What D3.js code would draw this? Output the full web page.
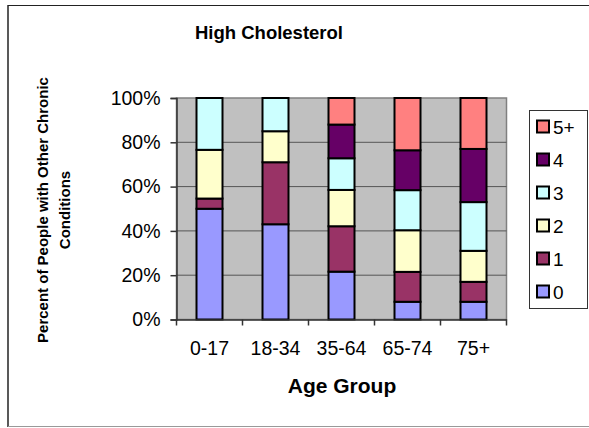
<!DOCTYPE html>
<html><head><meta charset="utf-8">
<script src="https://cdn.jsdelivr.net/npm/d3@7"></script>
<style>body{margin:0;background:#fff}svg{display:block;font-family:"Liberation Sans",Arial,sans-serif}</style>
</head><body><svg id="c" width="589" height="428"></svg>
<script>
const categories = ["0-17","18-34","35-64","65-74","75+"];
const seriesNames = ["0","1","2","3","4","5+"];
const s0 = [50, 43, 21.6, 8, 8];
const s1 = [4.6, 28, 20.5, 13.5, 9];
const s2 = [22, 14, 16.4, 18.8, 14];
const s3 = [23.4, 15, 14.3, 18.1, 22];
const s4 = [0, 0, 15.2, 18, 24];
const s5 = [0, 0, 12, 23.6, 23];
const colors = ["#9999FF","#993366","#FFFFCC","#CCFFFF","#660066","#FF8080"];
const yTicks = [0, 0.2, 0.4, 0.6, 0.8, 1];

const svg = d3.select("#c");
const series = [s0,s1,s2,s3,s4,s5];
const rows = categories.map((c,i)=>{const r={cat:c}; seriesNames.forEach((n,j)=>r[n]=series[j][i]/100); return r;});
const stack = d3.stack().keys(seriesNames)(rows);

const L=176.5, R=506.5, T=98, B=319.5;
const x = d3.scaleBand().domain(categories).range([L,R]);
const y = d3.scaleLinear().domain([0,1]).range([B,T]);
const FF = "Liberation Sans, Arial, sans-serif";

// outer border
svg.append("line").attr("x1",8).attr("x2",8).attr("y1",5).attr("y2",427).attr("stroke","#222").attr("stroke-width",1.5);
svg.append("line").attr("x1",8).attr("x2",589).attr("y1",5.5).attr("y2",5.5).attr("stroke","#222").attr("stroke-width",1);
svg.append("line").attr("x1",8).attr("x2",589).attr("y1",426.5).attr("y2",426.5).attr("stroke","#999").attr("stroke-width",1);

// plot bg
svg.append("rect").attr("x",L).attr("y",T).attr("width",R-L).attr("height",B-T).attr("fill","#C0C0C0").attr("stroke","#808080").attr("stroke-width",1.5);
// grid
svg.append("g").selectAll("line").data(yTicks.filter(d=>d>0&&d<1)).join("line")
  .attr("x1",L).attr("x2",R).attr("y1",d=>y(d)).attr("y2",d=>y(d)).attr("stroke","#555").attr("stroke-width",1);

// bars
const bw = 26;
svg.append("g").selectAll("g").data(stack).join("g").attr("fill",(d,i)=>colors[i])
  .selectAll("rect").data(d=>d.filter(p=>p[1]-p[0]>0)).join("rect")
  .attr("x",d=>x(d.data.cat)+x.bandwidth()/2-bw/2).attr("width",bw)
  .attr("y",d=>y(d[1])).attr("height",d=>y(d[0])-y(d[1]))
  .attr("stroke","#000").attr("stroke-width",2);

// axes
const yAxis = svg.append("g").attr("transform",`translate(${L},0)`)
  .call(d3.axisLeft(y).tickValues(yTicks).tickFormat(d3.format(".0%")).tickSize(6).tickPadding(10));
yAxis.select(".domain").attr("stroke","#333").attr("stroke-width",1.5);
yAxis.selectAll(".tick line").attr("stroke","#333").attr("stroke-width",1.5);
yAxis.selectAll("text").attr("font-size",19.5).attr("fill","#000").attr("font-family",FF);
const xAxis = svg.append("g").attr("transform",`translate(0,${B})`)
  .call(d3.axisBottom(x).tickSize(0).tickPadding(22));
xAxis.select(".domain").attr("stroke","#333").attr("stroke-width",1.5);
xAxis.selectAll("text").attr("font-size",19.5).attr("fill","#000").attr("font-family",FF);
// x ticks at boundaries
const bounds = categories.map(c=>x(c)).concat([R]);
svg.append("g").selectAll("line").data(bounds).join("line")
  .attr("x1",d=>d).attr("x2",d=>d).attr("y1",B).attr("y2",B+6).attr("stroke","#333").attr("stroke-width",1.5);

// titles
svg.append("text").attr("x",269).attr("y",39).attr("text-anchor","middle").attr("font-size",18.5).attr("font-weight","bold").text("High Cholesterol");
svg.append("text").attr("x",342).attr("y",393).attr("text-anchor","middle").attr("font-size",21).attr("font-weight","bold").text("Age Group");
const yt = svg.append("text").attr("transform","translate(0,210) rotate(-90)").attr("text-anchor","middle").attr("font-size",15).attr("font-weight","bold");
yt.append("tspan").attr("x",0).attr("y",48).text("Percent of People with Other Chronic");
yt.append("tspan").attr("x",0).attr("y",70).text("Conditions");

// legend
svg.append("rect").attr("x",529.5).attr("y",110.5).attr("width",58).attr("height",198).attr("fill","#fff").attr("stroke","#333").attr("stroke-width",1);
const legOrder = seriesNames.map((n,i)=>({n,i})).reverse();
const lg = svg.append("g").selectAll("g").data(legOrder).join("g")
  .attr("transform",(d,k)=>`translate(537,${126.5+k*33})`);
lg.append("rect").attr("x",0).attr("y",-6).attr("width",12).attr("height",12).attr("fill",d=>colors[d.i]).attr("stroke","#000").attr("stroke-width",2);
lg.append("text").attr("x",16).attr("y",7).attr("font-size",19).attr("font-family",FF).text(d=>d.n);
</script></body></html>
